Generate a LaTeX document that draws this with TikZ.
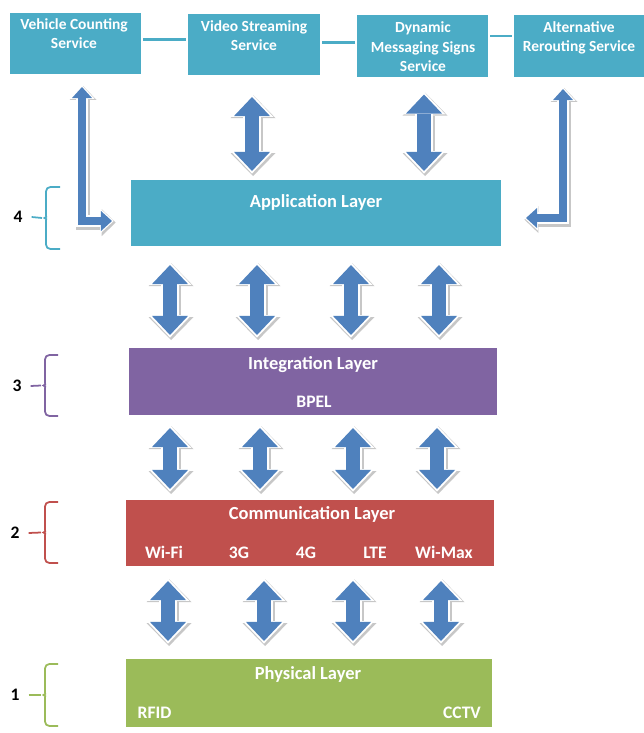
\documentclass[tikz,border=0pt]{standalone}
\usepackage{fontspec}
\setmainfont{Carlito}
\usetikzlibrary{arrows.meta,calc,shadows}

\definecolor{aqua}{HTML}{4BACC6}
\definecolor{lpurple}{HTML}{8064A2}
\definecolor{lred}{HTML}{C0504D}
\definecolor{lgreen}{HTML}{9BBB59}
\definecolor{arrowblue}{HTML}{4F81BD}

\begin{document}
\begin{tikzpicture}[x=0.02cm,y=-0.02cm]
\tikzset{box/.style = {draw=white, line width=1.2pt, drop shadow={opacity=0.3,shadow xshift=0.6pt,shadow yshift=-0.8pt}}}
\tikzset{svc/.style = {font=\fontsize{8.8}{11.3}\selectfont\bfseries, text=white, align=center, anchor=base, inner sep=0pt}}
\tikzset{ttl/.style = {font=\fontsize{10.5}{12}\selectfont\bfseries, text=white, anchor=base, inner sep=0pt}}
\tikzset{itm/.style = {ttl, font=\fontsize{10}{12}\selectfont\bfseries}}
\tikzset{num/.style = {font=\fontsize{10}{12}\selectfont\bfseries, inner sep=0pt}}
\tikzset{link/.style = {draw=aqua, line width=1.6pt}}
\tikzset{brc/.style = {line width=1pt, rounded corners=2.5pt}}
\tikzset{fat/.style = {draw=arrowblue, line width=0.28cm,
  {Triangle[width=0.72cm,length=0.38cm,line width=0pt]}-{Triangle[width=0.72cm,length=0.38cm,line width=0pt]},
  preaction={draw=black!22, line width=0.40cm, shorten <=-2pt, shorten >=-2pt,
    {Triangle[width=0.90cm,length=0.46cm,line width=0pt]}-{Triangle[width=0.90cm,length=0.46cm,line width=0pt]},
    transform canvas={shift={(0.6pt,-0.9pt)}}},
  preaction={draw=white, line width=0.36cm, shorten <=-1.5pt, shorten >=-1.5pt,
    {Triangle[width=0.86cm,length=0.45cm,line width=0pt]}-{Triangle[width=0.86cm,length=0.45cm,line width=0pt]}}}}
\tikzset{slim/.style = {draw=arrowblue, line width=0.17cm, line join=miter,
  {Triangle[width=0.40cm,length=0.22cm,line width=0pt]}-{Triangle[width=0.40cm,length=0.22cm,line width=0pt]},
  preaction={draw=black!22, line width=0.28cm, line join=miter, shorten <=-1.5pt, shorten >=-1.5pt,
    {Triangle[width=0.54cm,length=0.28cm,line width=0pt]}-{Triangle[width=0.54cm,length=0.28cm,line width=0pt]},
    transform canvas={shift={(0.6pt,-0.9pt)}}},
  preaction={draw=white, line width=0.25cm, line join=miter, shorten <=-1pt, shorten >=-1pt,
    {Triangle[width=0.50cm,length=0.27cm,line width=0pt]}-{Triangle[width=0.50cm,length=0.27cm,line width=0pt]}}}}

\useasboundingbox (0,0) rectangle (644,733);

% services
\node[box, fill=aqua, minimum width=2.66cm, minimum height=1.26cm] (vc) at (75.5,43.5) {};
\node[box, fill=aqua, minimum width=2.68cm, minimum height=1.26cm] (vs) at (254,44.5) {};
\node[box, fill=aqua, minimum width=2.66cm, minimum height=1.30cm] (dm) at (422.5,46) {};
\node[box, fill=aqua, minimum width=2.68cm, minimum height=1.28cm] (ar) at (580,46) {};
% (base = last line)
\node[svc] (tvc) at (74,49)  {Vehicle Counting\\Service};
\node[svc] (tvs) at (254,51) {Video Streaming\\Service};
\node[svc] (tdm) at (423,72) {Dynamic\\Messaging Signs\\Service};
\node[svc] (tar) at (579,52) {Alternative\\Rerouting Service};

\draw[link] (vc.east |- 0,39.5) -- (vs.west |- 0,39.5);
\draw[link] (vs.east |- 0,42.5) -- (dm.west |- 0,42.5);
\draw[link] (dm.east |- 0,36)   -- (ar.west |- 0,36);

% layers
\node[box, fill=aqua,    minimum width=7.44cm, minimum height=1.36cm] (app) at (316,213) {};
\node[box, fill=lpurple, minimum width=7.40cm, minimum height=1.38cm] (int) at (313,381.5) {};
\node[box, fill=lred,    minimum width=7.40cm, minimum height=1.36cm] (com) at (310,533) {};
\node[box, fill=lgreen,  minimum width=7.38cm, minimum height=1.40cm] (phy) at (309,693) {};

\node[ttl] (tapp) at (316,208) {Application Layer};
\node[ttl] (tint) at (313,369) {Integration Layer};
\node[itm] (bpel) at (314,407) {BPEL};
\node[ttl] (tcom) at (312,519) {Communication Layer};
\node[itm] (wifi) at (164,558) {Wi-Fi};
\node[itm] (g3)   at (239,558) {3G};
\node[itm] (g4)   at (306,558) {4G};
\node[itm] (lte)  at (375,558) {LTE};
\node[itm] (wmax) at (444,558) {Wi-Max};
\node[ttl] (tphy) at (308,679) {Physical Layer};
\node[itm] (rfid) at (154.5,718) {RFID};
\node[itm] (cctv) at (462,718) {CCTV};

% arrows
\draw[fat] ($(vs.south)+(-2,20)$) -- ($(vs.south |- app.north)+(-2,-7)$);
\draw[fat] ($(dm.south)+(1.5,15)$) -- ($(dm.south |- app.north)+(1.5,-7)$);
\foreach \x in {170,257,351,439}
  \draw[fat] ($(\x,0 |- app.south)+(0,17)$) -- ($(\x,0 |- int.north)+(0,-11)$);
\foreach \x in {170,260,353,437}
  \draw[fat] ($(\x,0 |- int.south)+(0,11)$) -- ($(\x,0 |- com.north)+(0,-9)$);
\foreach \x in {168,264,353,441}
  \draw[fat] ($(\x,0 |- com.south)+(0,13)$) -- ($(\x,0 |- phy.north)+(0,-16)$);

\draw[slim] ($(vc.south)+(6.5,11)$) |- ($(app.west)+(-17,8)$);
\draw[slim] ($(ar.south)+(-17,10)$) |- ($(app.east)+(23,5)$);

% braces
\node[num] (n4) at (18,217) {4};
\node[num] (n3) at (17,386) {3};
\node[num] (n2) at (15,533) {2};
\node[num] (n1) at (15,695) {1};
\coordinate (b4) at (42,218);
\coordinate (b3) at (41,385.5);
\coordinate (b2) at (41,532.5);
\coordinate (b1) at (41,695);
\draw[brc, aqua]    (60,187) -- (46,187) -- (46,211) .. controls (46,217) .. (b4)
                    .. controls (46,219) .. (46,225) -- (46,249) -- (60,249);
\draw[brc, lpurple] (58,355) -- (45,355) -- (45,378.5) .. controls (45,384.5) .. (b3)
                    .. controls (45,386.5) .. (45,392.5) -- (45,416) -- (58,416);
\draw[brc, lred]    (58,502) -- (45,502) -- (45,525.5) .. controls (45,531.5) .. (b2)
                    .. controls (45,533.5) .. (45,539.5) -- (45,563) -- (58,563);
\draw[brc, lgreen]  (58,664) -- (45,664) -- (45,688) .. controls (45,694) .. (b1)
                    .. controls (45,696) .. (45,702) -- (45,726) -- (58,726);
\draw[aqua, line width=1pt]    ([xshift=5pt]n4.east) -- (b4);
\draw[lpurple, line width=1pt] ([xshift=5pt]n3.east) -- (b3);
\draw[lred, line width=1pt]    ([xshift=5pt]n2.east) -- (b2);
\draw[lgreen, line width=1pt]  ([xshift=5pt]n1.east) -- (b1);
\end{tikzpicture}
\end{document}
